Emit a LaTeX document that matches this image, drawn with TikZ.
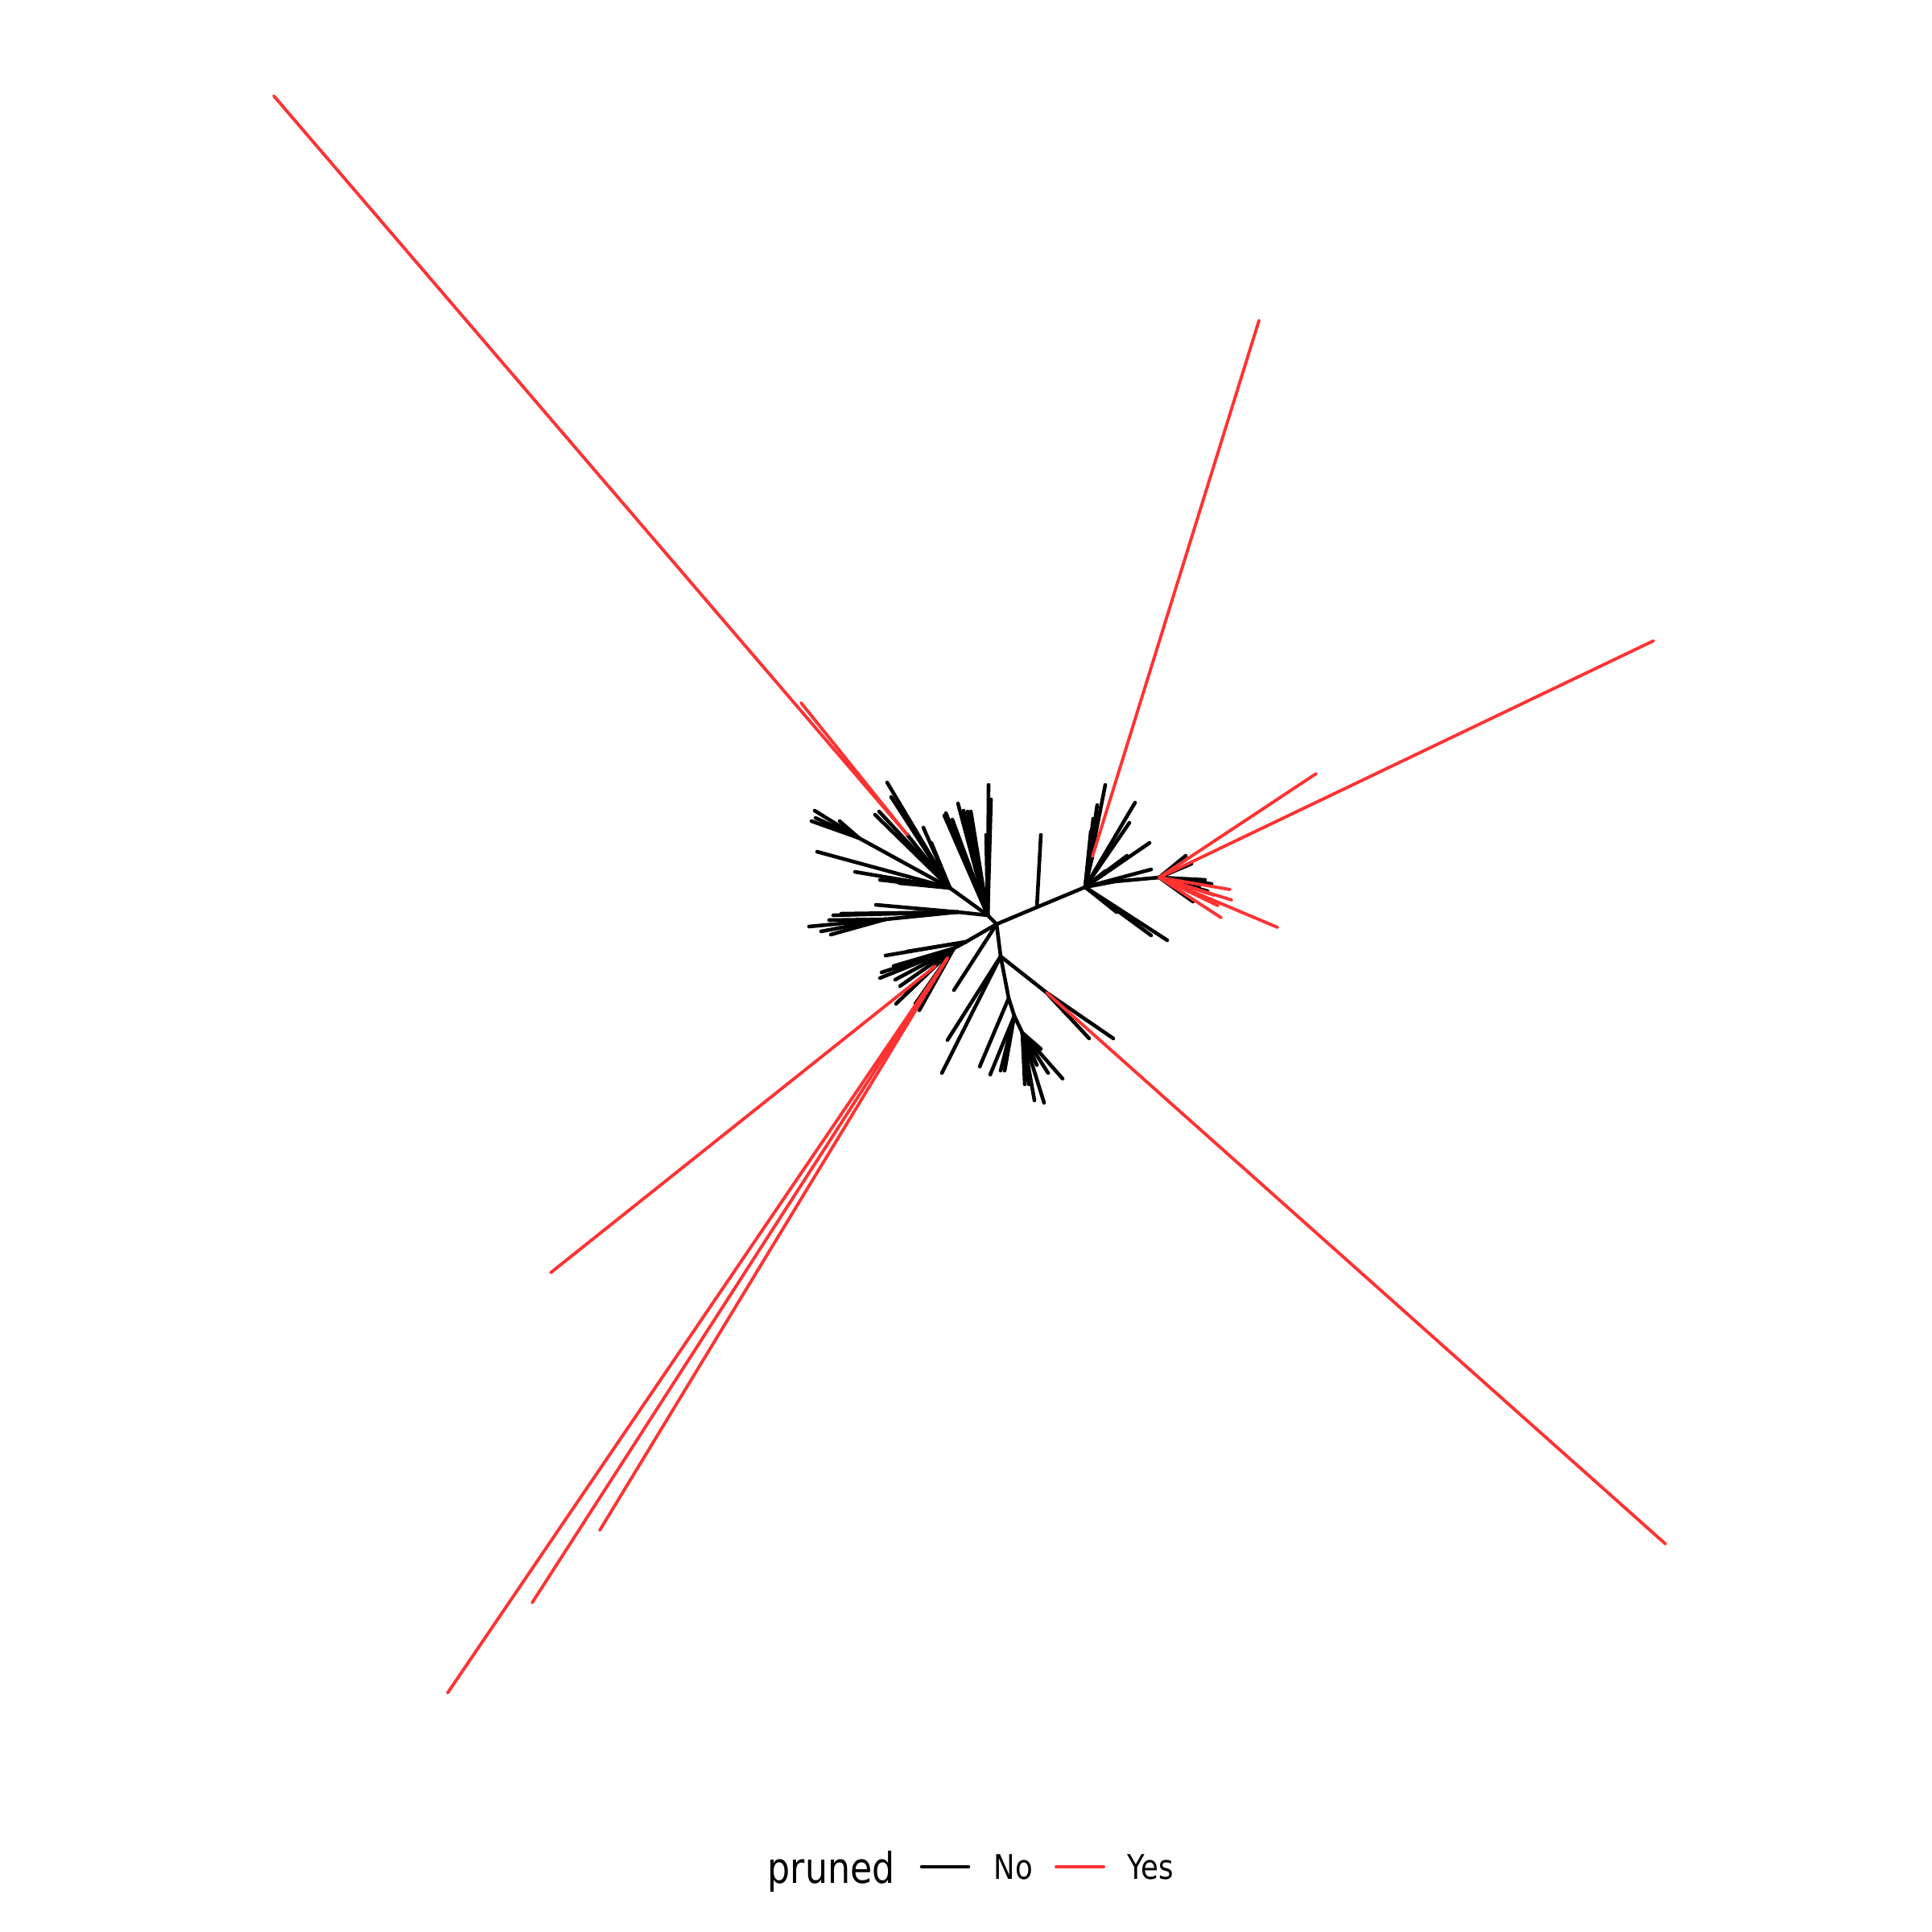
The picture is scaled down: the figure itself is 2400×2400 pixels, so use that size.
\documentclass[tikz,border=0pt]{standalone}
\usepackage{fontspec}
\setmainfont{DejaVu Sans}
\begin{document}
\begin{tikzpicture}[x=0.01cm,y=-0.01cm,
  br/.style={line width=1.3pt,line cap=round,black},
  pr/.style={line width=1.1pt,line cap=round,color=prred},
  lab/.style={anchor=base west,inner sep=0pt}]
\definecolor{prred}{RGB}{255,50,50}
\useasboundingbox[fill=white] (0,0) rectangle (2400,2400);
% internal nodes
\coordinate (A) at (1238,1148);
\coordinate (B) at (1227,1137);
\coordinate (H2) at (1180,1103);
\coordinate (H2a) at (1067,1041);
\coordinate (R0) at (1127,1037);
\coordinate (LB) at (1190,1133);
\coordinate (Ls) at (1100,1142);
\coordinate (Cn) at (1288,1127);
\coordinate (C) at (1348,1102);
\coordinate (Cd) at (1385,1095);
\coordinate (D) at (1440,1090);
\coordinate (R2) at (1357,1064);
\coordinate (G) at (1200,1170);
\coordinate (G2) at (1185,1178);
\coordinate (RL1) at (1177,1190);
\coordinate (RL2) at (1162,1200);
\coordinate (E) at (1243,1188);
\coordinate (F) at (1253,1240);
\coordinate (F2) at (1260,1262);
\coordinate (F3) at (1270,1283);
\coordinate (R1) at (1300,1233);
% backbone
\draw[br] (B) -- (A) -- (Cn) -- (C) -- (Cd) -- (D);
\draw[br] (A) -- (G) -- (G2);
\draw[br] (A) -- (E) -- (F) -- (F2) -- (F3);
\draw[br] (B) -- (H2) -- (H2a);
\draw[br] (H2) -- (R0);
\draw[br] (B) -- (LB) -- (Ls);
\draw[br] (C) -- (R2);
\draw[br] (G2) -- (RL1);
\draw[br] (G2) -- (RL2);
\draw[br] (E) -- (R1);
% leaves: centre
\coordinate (c1) at (1293,1037); \draw[br] (Cn) -- (c1);
\coordinate (c2) at (1185,1230); \draw[br] (A) -- (c2);
% leaves: upper fan from B
\foreach \n/\x/\y in {b1/1228/975, b2/1231/993, b3/1225/1037, b4/1190/998, b5/1197/1007, b6/1202/1008, b7/1206/1008, b8/1175/1010, b9/1183/1018, b10/1173/1013}
  {\coordinate (\n) at (\x,\y); \draw[br] (B) -- (\n);}
% leaves: H2
\foreach \n/\x/\y in {h1/1015/1058, h2/1062/1083, h3/1093/1093, h4/1117/1097, h5/1102/972, h6/1107/990, h7/1087/1012, h8/1092/1008, h9/1147/1028, h10/1157/1047}
  {\coordinate (\n) at (\x,\y); \draw[br] (H2) -- (\n);}
\foreach \n/\x/\y in {a1/1012/1007, a2/1008/1020, a3/1043/1020, a4/1013/1016}
  {\coordinate (\n) at (\x,\y); \draw[br] (H2a) -- (\n);}
% red from R0
\coordinate (r01) at (340,119); \draw[pr] (R0) -- (r01);
\coordinate (r02) at (995,873); \draw[pr] (R0) -- (r02);
% leaves: left cluster
\foreach \n/\x/\y in {s1/1005/1151, s2/1030/1143, s3/1020/1157, s4/1032/1161}
  {\coordinate (\n) at (\x,\y); \draw[br] (Ls) -- (\n);}
\foreach \n/\x/\y in {t1/1035/1137, t2/1045/1135, t3/1088/1124}
  {\coordinate (\n) at (\x,\y); \draw[br] (LB) -- (\n);}
% leaves: lower-left cluster
\foreach \n/\x/\y in {g1/1100/1187, g2/1127/1182}
  {\coordinate (\n) at (\x,\y); \draw[br] (G) -- (\n);}
\foreach \n/\x/\y in {k1/1095/1208, k2/1093/1215, k3/1110/1200, k4/1112/1217, k5/1118/1225, k6/1113/1247, k7/1137/1247, k8/1142/1255, k9/1125/1235}
  {\coordinate (\n) at (\x,\y); \draw[br] (G2) -- (\n);}
\coordinate (rl1) at (556,2103); \draw[pr] (RL1) -- (rl1);
\coordinate (rl2) at (661,1991); \draw[pr] (RL1) -- (rl2);
\coordinate (rl3) at (745,1901); \draw[pr] (RL1) -- (rl3);
\coordinate (rl4) at (684,1581); \draw[pr] (RL2) -- (rl4);
% leaves: lower branch
\coordinate (e1) at (1177,1292); \draw[br] (E) -- (e1);
\coordinate (e2) at (1170,1333); \draw[br] (E) -- (e2);
\coordinate (f1) at (1217,1325); \draw[br] (F) -- (f1);
\foreach \n/\x/\y in {m1/1230/1335, m2/1243/1330, m3/1248/1330}
  {\coordinate (\n) at (\x,\y); \draw[br] (F2) -- (\n);}
\foreach \n/\x/\y in {n1/1273/1347, n2/1278/1347, n3/1285/1367, n4/1297/1370, n5/1293/1303, n6/1302/1333, n7/1320/1340, n8/1288/1323, n9/1275/1340}
  {\coordinate (\n) at (\x,\y); \draw[br] (F3) -- (\n);}
% lower-right branch
\coordinate (q1) at (1383,1290); \draw[br] (R1) -- (q1);
\coordinate (q2) at (1353,1290); \draw[br] (R1) -- (q2);
\coordinate (q3) at (1327,1262); \draw[br] (R1) -- (q3);
\coordinate (q4) at (2069,1918); \draw[pr] (R1) -- (q4);
% C fan
\foreach \n/\x/\y in {u1/1373/975, u2/1363/1000, u3/1358/1017, u4/1355/1033, u5/1410/997, u6/1403/1022, u7/1428/1047, u8/1400/1063, u9/1373/1082, u10/1430/1080, u11/1450/1168, u12/1430/1162, u13/1387/1133}
  {\coordinate (\n) at (\x,\y); \draw[br] (C) -- (\n);}
\coordinate (rr2) at (1564,398); \draw[pr] (R2) -- (rr2);
% D cluster
\foreach \n/\x/\y in {d1/1473/1063, d2/1480/1073, d3/1497/1093, d4/1505/1098, d5/1482/1120, d6/1500/1107, d7/1490/1100}
  {\coordinate (\n) at (\x,\y); \draw[br] (D) -- (\n);}
\foreach \n/\x/\y in {p1/1635/961, p2/2054/796, p3/1528/1105, p4/1587/1152, p5/1517/1140, p6/1513/1125, p7/1508/1112, p8/1530/1118}
  {\coordinate (\n) at (\x,\y); \draw[pr] (D) -- (\n);}
% legend
\node[lab] (lt) at (953,2339) {\fontsize{15pt}{18pt}\selectfont\scalebox{0.84}[1]{pruned}};
\coordinate (k1a) at (1145,2319); \coordinate (k1b) at (1203,2319);
\draw[br] (k1a) -- (k1b);
\node[lab] (lno) at (1234,2334) {\fontsize{12pt}{14pt}\selectfont\scalebox{0.84}[1]{No}};
\coordinate (k2a) at (1312,2319); \coordinate (k2b) at (1371,2319);
\draw[pr] (k2a) -- (k2b);
\node[lab] (lyes) at (1400,2334) {\fontsize{12pt}{14pt}\selectfont\scalebox{0.84}[1]{Yes}};
\end{tikzpicture}
\end{document}
